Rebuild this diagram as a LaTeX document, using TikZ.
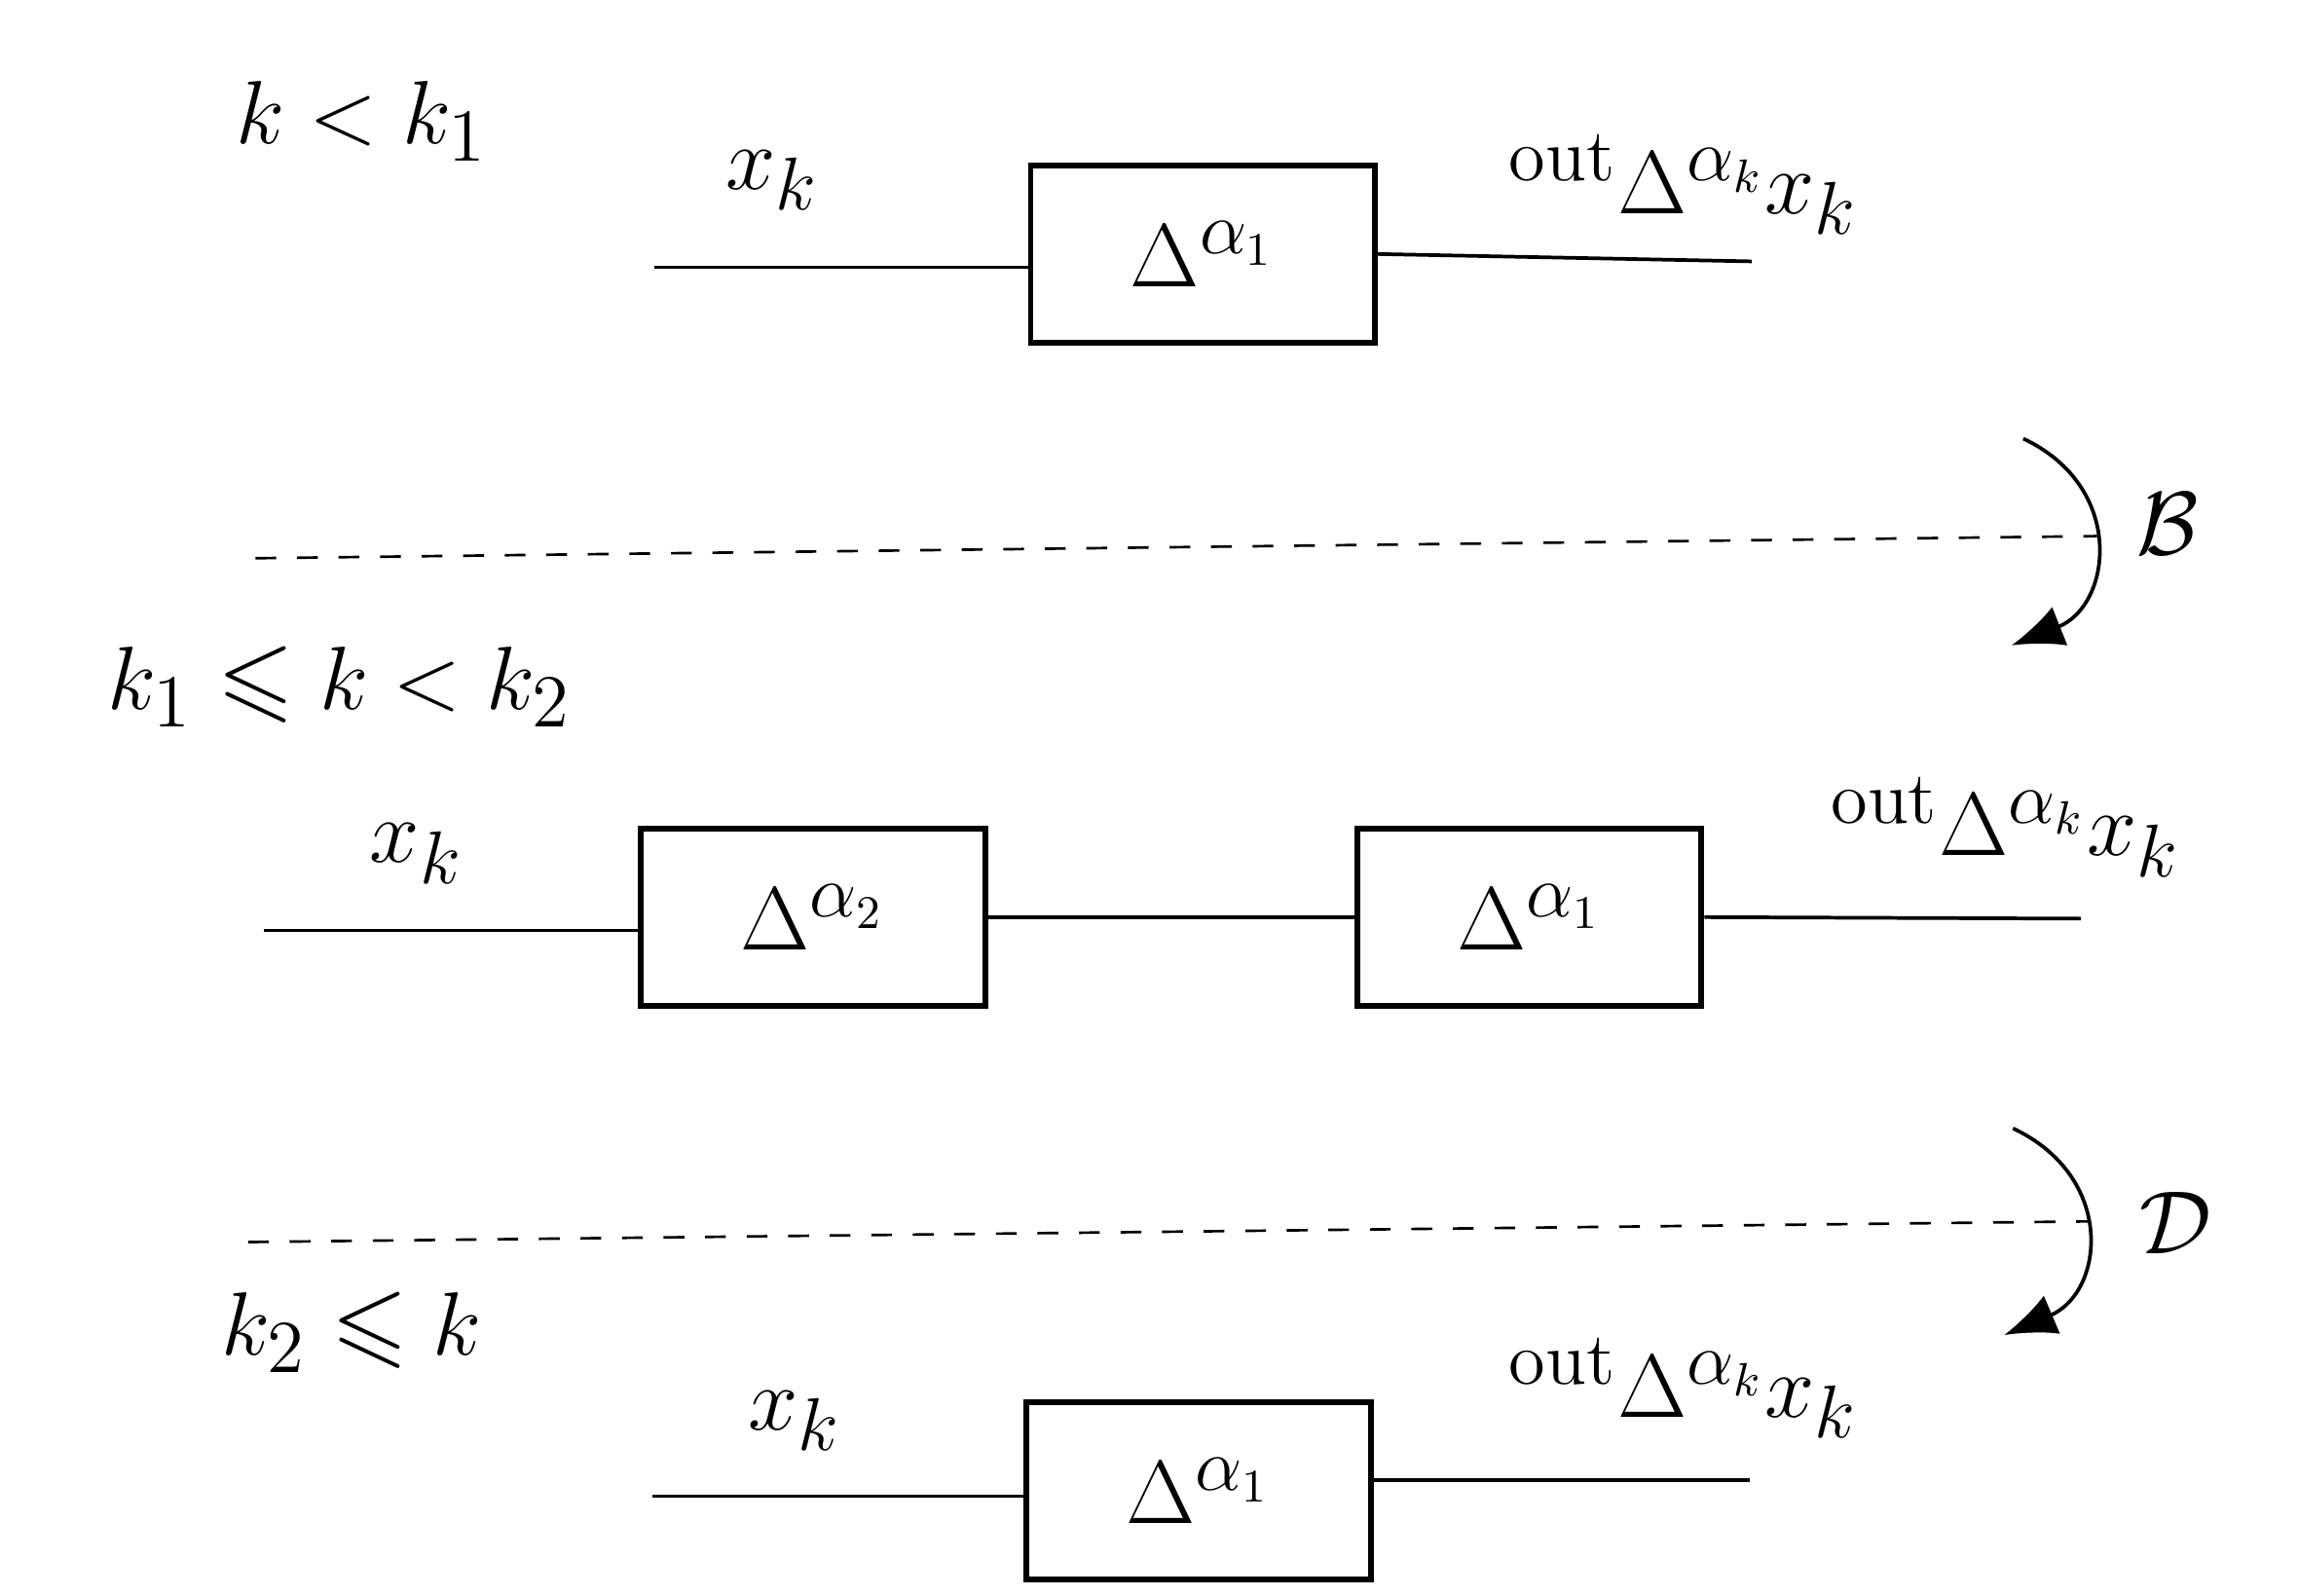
\documentclass[tikz,border=0pt]{standalone}
\usepackage{amssymb}
\usetikzlibrary{arrows.meta}
\begin{document}
\fontsize{19}{23}\selectfont
\begin{tikzpicture}[x=0.01cm,y=-0.01cm,
  box/.style={draw,line width=1.1pt,minimum width=2.33cm,minimum height=1.2cm,inner sep=0},
  wire/.style={line width=0.7pt},
  sep/.style={line width=0.5pt,dash pattern=on 4pt off 4pt},
  lbl/.style={inner sep=0}]
\useasboundingbox (0,0) rectangle (1556,1080);
% row 1
\node[lbl] (c1) at (245,82) {$k<k_1$};
\node[box] (b1) at (814.5,172) {$\Delta^{\alpha_1}$};
\coordinate (i1) at (443,181);
\coordinate (o1) at (1186,177);
\draw[wire] (i1) -- (b1.west|-i1);
\draw[wire] (b1.east) -- (o1);
\node[lbl] (x1) at (523,122) {$x_k$};
\node[lbl] (t1) at (1140,125) {$^{\mathrm{out}}\Delta^{\alpha_k}x_k$};
% separator B
\coordinate (d1a) at (173,378); \coordinate (d1b) at (1420,363);
\draw[sep] (d1a) -- (d1b);
\coordinate (a1s) at (1370,297); \coordinate (a1e) at (1362,437);
\draw[line width=0.7pt,-{Latex[length=10pt,width=8pt]}] (a1s) .. controls (1440,330) and (1430,410) .. (a1e);
\node[lbl] (B) at (1468,355) {$\mathcal{B}$};
% row 2
\node[lbl] (c2) at (230,465) {$k_1\leqslant k<k_2$};
\node[box] (b2) at (550.5,621) {$\Delta^{\alpha_2}$};
\node[box] (b3) at (1035.5,621) {$\Delta^{\alpha_1}$};
\coordinate (i2) at (179,630);
\coordinate (o2) at (1409,622);
\draw[wire] (i2) -- (b2.west|-i2);
\draw[wire] (b2.east) -- (b3.west);
\draw[wire] (b3.east) -- (o2);
\node[lbl] (x2) at (282,578) {$x_k$};
\node[lbl] (t2) at (1358,560) {$^{\mathrm{out}}\Delta^{\alpha_k}x_k$};
% separator D
\coordinate (d2a) at (168,841); \coordinate (d2b) at (1415,827);
\draw[sep] (d2a) -- (d2b);
\coordinate (a2s) at (1363,764); \coordinate (a2e) at (1357,904);
\draw[line width=0.7pt,-{Latex[length=10pt,width=8pt]}] (a2s) .. controls (1433,797) and (1425,875) .. (a2e);
\node[lbl] (D) at (1473,828) {$\mathcal{D}$};
% row 3
\node[lbl] (c3) at (238,902) {$k_2\leqslant k$};
\node[box] (b4) at (811.5,1009.5) {$\Delta^{\alpha_1}$};
\coordinate (i3) at (442,1013);
\coordinate (o3) at (1185,1002);
\draw[wire] (i3) -- (b4.west|-i3);
\draw[wire] (b4.east|-o3) -- (o3);
\node[lbl] (x3) at (538,962) {$x_k$};
\node[lbl] (t3) at (1140,940) {$^{\mathrm{out}}\Delta^{\alpha_k}x_k$};
\end{tikzpicture}
\end{document}
